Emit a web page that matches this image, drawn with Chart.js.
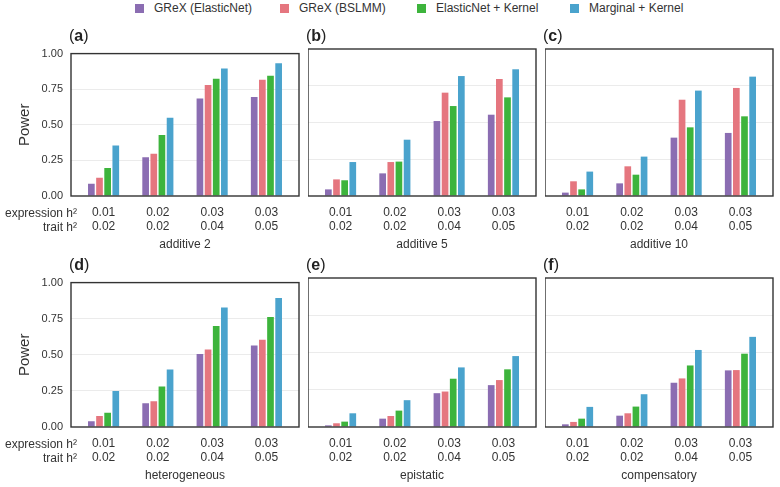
<!DOCTYPE html>
<html>
<head>
<meta charset="utf-8">
<script src="https://cdn.jsdelivr.net/npm/chart.js@4.4.0/dist/chart.umd.min.js"></script>
<style>
  body { margin:0; width:780px; height:487px; background:#fff; position:relative; overflow:hidden;
         font-family:"Liberation Sans", Arial, sans-serif; color:#333; }
  .panel { position:absolute; }
  .tag { position:absolute; font-size:16px; line-height:18px; color:#222; z-index:2; }
  .rowlab { position:absolute; right:703px; font-size:12px; line-height:14px; white-space:nowrap; z-index:2; }
  .leg { position:absolute; top:1px; font-size:12px; line-height:15px; white-space:nowrap; }
  .sq { position:absolute; top:4px; width:9px; height:9px; }
</style>
</head>
<body>
<script>
var methods = ['GReX (ElasticNet)', 'GReX (BSLMM)', 'ElasticNet + Kernel', 'Marginal + Kernel'];
var colors = ['#8B6DB2', '#E5767F', '#3DB43C', '#4AA3CD'];
var exprH2 = ['0.01', '0.02', '0.03', '0.03'];
var traitH2 = ['0.02', '0.02', '0.04', '0.05'];
var panelTags = ['a', 'b', 'c', 'd', 'e', 'f'];
var panelTitles = ['additive 2', 'additive 5', 'additive 10', 'heterogeneous', 'epistatic', 'compensatory'];

// power, one row per method, one value per h2 setting
var additive2 = [
  [0.086, 0.272, 0.685, 0.696],
  [0.129, 0.297, 0.780, 0.816],
  [0.197, 0.429, 0.823, 0.844],
  [0.354, 0.549, 0.896, 0.932]
];
var additive5 = [
  [0.045, 0.154, 0.510, 0.553],
  [0.113, 0.231, 0.703, 0.796],
  [0.107, 0.234, 0.612, 0.671],
  [0.231, 0.383, 0.816, 0.862]
];
var additive10 = [
  [0.023, 0.086, 0.397, 0.429],
  [0.100, 0.202, 0.655, 0.735],
  [0.045, 0.145, 0.467, 0.542],
  [0.166, 0.268, 0.717, 0.812]
];
var heterogeneous = [
  [0.040, 0.164, 0.506, 0.564],
  [0.076, 0.178, 0.537, 0.604],
  [0.099, 0.281, 0.699, 0.762],
  [0.249, 0.398, 0.827, 0.894]
];
var epistatic = [
  [0.011, 0.056, 0.227, 0.281],
  [0.025, 0.074, 0.238, 0.315],
  [0.036, 0.110, 0.324, 0.387],
  [0.092, 0.180, 0.400, 0.476]
];
var compensatory = [
  [0.018, 0.076, 0.297, 0.380],
  [0.034, 0.092, 0.326, 0.382],
  [0.056, 0.137, 0.413, 0.492],
  [0.135, 0.220, 0.517, 0.605]
];
var panelData = [additive2, additive5, additive10, heterogeneous, epistatic, compensatory];

// layout of the panel frames
var colLeft = [71, 308, 545];
var frameW = 228;
var rowTop = [49, 278];
var rowH = [147, 149];

var framePlugin = {
  id: 'frame',
  afterDraw: function(chart) {
    var a = chart.chartArea, ctx = chart.ctx;
    ctx.save();
    ctx.strokeStyle = '#333';
    ctx.lineWidth = 1.4;
    ctx.strokeRect(a.left, a.top, a.right - a.left, a.bottom - a.top);
    ctx.restore();
  }
};

function addText(cls, html, css) {
  var d = document.createElement('div');
  d.className = cls;
  d.innerHTML = html;
  for (var k in css) d.style[k] = css[k];
  document.body.appendChild(d);
  return d;
}

// legend
var legSq = [135, 280, 417, 570];
methods.forEach(function(m, i) {
  addText('sq', '', { left: legSq[i] + 'px', background: colors[i] });
  addText('leg', m, { left: (legSq[i] + 19) + 'px' });
});

panelData.forEach(function(series, p) {
  var col = p % 3, row = Math.floor(p / 3);
  var left = col == 0 ? 0 : colLeft[col];
  var top = rowTop[row] - 10;
  var w = colLeft[col] + frameW + 4 - left;
  var h = 10 + rowH[row] + 60;

  var box = document.createElement('div');
  box.className = 'panel';
  box.style.left = left + 'px';
  box.style.top = top + 'px';
  box.style.width = w + 'px';
  box.style.height = h + 'px';
  var cv = document.createElement('canvas');
  box.appendChild(cv);
  document.body.appendChild(box);

  var yW = col == 0 ? colLeft[0] - left : 0;

  new Chart(cv.getContext('2d'), {
    type: 'bar',
    data: {
      datasets: series.map(function(vals, k) {
        return {
          label: methods[k],
          data: vals.map(function(v, i) { return { x: i + 1, y: v }; }),
          backgroundColor: colors[k],
          borderWidth: 0,
          categoryPercentage: 0.6,
          barPercentage: 0.82
        };
      })
    },
    options: {
      responsive: true,
      maintainAspectRatio: false,
      animation: false,
      layout: { padding: { top: 10, right: 4, bottom: 0, left: 0 } },
      plugins: { legend: { display: false }, tooltip: { enabled: false } },
      scales: {
        x: {
          type: 'linear',
          offset: false,
          min: 0.4,
          max: 4.6,
          afterBuildTicks: function(axis) {
            axis.ticks = [1, 2, 3, 4].map(function(v) { return { value: v }; });
          },
          afterFit: function(axis) { axis.height = 60; },
          grid: { display: false, drawTicks: false, offset: false },
          border: { display: false },
          ticks: {
            autoSkip: false,
            maxRotation: 0,
            padding: 10,
            color: '#333',
            font: { family: 'Liberation Sans', size: 12, lineHeight: 14 / 12 },
            callback: function(v) { return [exprH2[v - 1], traitH2[v - 1]]; }
          },
          title: {
            display: true,
            text: panelTitles[p],
            color: '#333',
            font: { family: 'Liberation Sans', size: 12, lineHeight: 1.2 },
            padding: { top: 0, bottom: 4.3 }
          }
        },
        y: {
          min: 0,
          max: 1,
          afterFit: function(axis) { axis.width = yW; },
          grid: {
            drawTicks: false,
            color: function(ctx) {
              var v = ctx.tick ? ctx.tick.value : 0;
              return (v > 0 && v < 1) ? '#ebebeb' : 'rgba(0,0,0,0)';
            },
            lineWidth: 1
          },
          border: { display: false },
          ticks: {
            display: col == 0,
            stepSize: 0.25,
            padding: 8,
            color: '#333',
            font: { family: 'Liberation Sans', size: 11 },
            callback: function(v) { return v.toFixed(2); }
          },
          title: {
            display: col == 0,
            text: 'Power',
            color: '#333',
            font: { family: 'Liberation Sans', size: 15, lineHeight: 1.2 },
            padding: { top: 16, bottom: 0 }
          }
        }
      }
    },
    plugins: [framePlugin]
  });

  addText('tag', '(<b>' + panelTags[p] + '</b>)', {
    left: (colLeft[col] - 2) + 'px',
    top: (rowTop[row] - 22) + 'px'
  });

  if (col == 0) {
    var fb = rowTop[row] + rowH[row];
    addText('rowlab', 'expression h²', { top: (fb + 10) + 'px' });
    addText('rowlab', 'trait h²', { top: (fb + 24) + 'px' });
  }
});
</script>
</body>
</html>
